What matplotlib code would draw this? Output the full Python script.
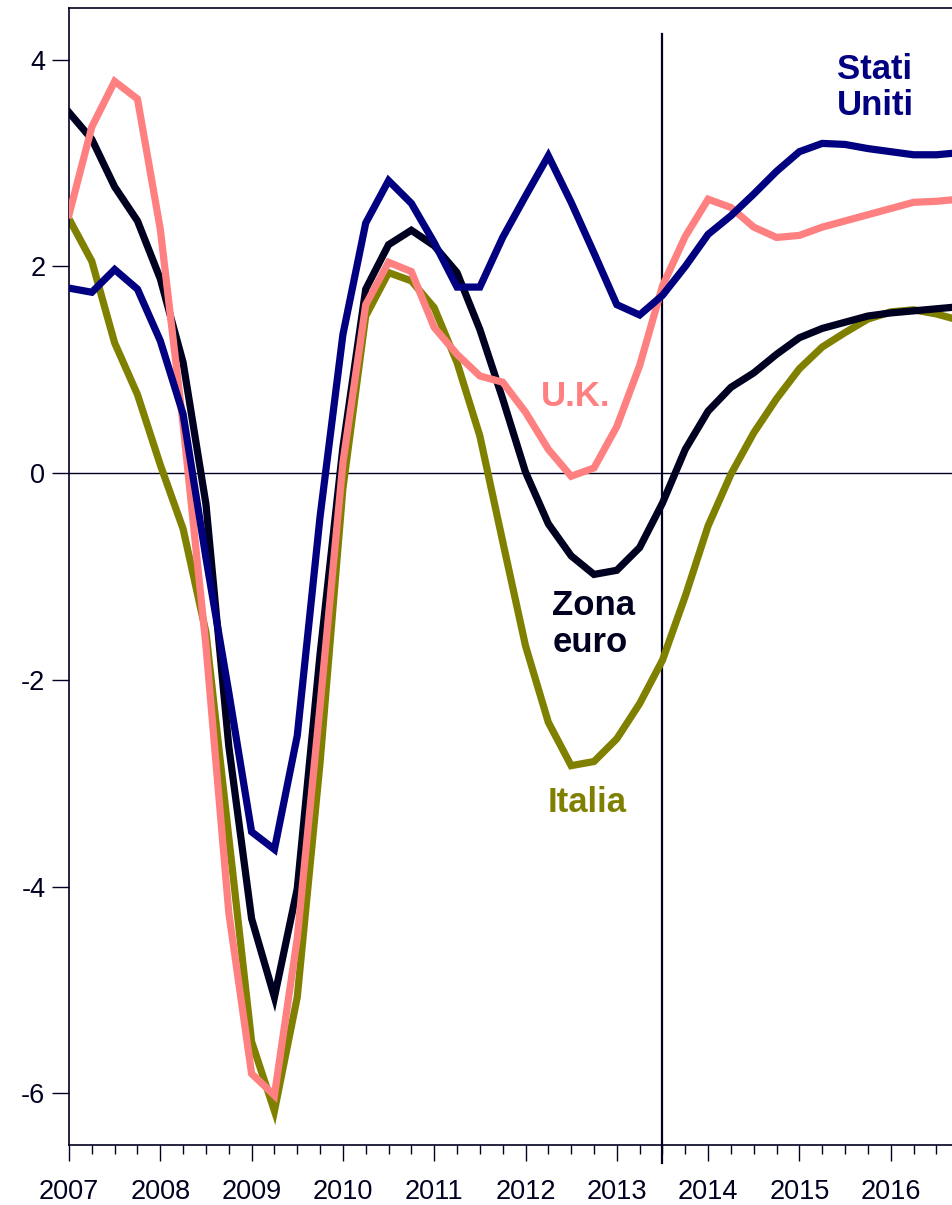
import numpy as np
import matplotlib
matplotlib.use('Agg')
import matplotlib.pyplot as plt
from matplotlib.ticker import MultipleLocator

plt.rcParams['font.family'] = ['Liberation Sans', 'DejaVu Sans']
plt.rcParams['axes.unicode_minus'] = False

### quarterly data, first point = 2007 Q1
start_year = 2007
quarters = np.arange(40)

zona_euro = [3.49, 3.23, 2.77, 2.44, 1.88, 1.07, -0.30, -2.64, -4.31, -5.07,
             -4.02, -1.75, 0.25, 1.78, 2.21, 2.35, 2.20, 1.94, 1.39, 0.72,
             0.01, -0.49, -0.80, -0.98, -0.94, -0.72, -0.29, 0.23, 0.60, 0.83,
             0.97, 1.15, 1.31, 1.40, 1.46, 1.52, 1.55, 1.57, 1.59, 1.61]
stati_uniti = [1.79, 1.75, 1.97, 1.78, 1.28, 0.57, -0.82, -2.12, -3.47, -3.64,
               -2.54, -0.42, 1.34, 2.42, 2.83, 2.61, 2.23, 1.80, 1.80, 2.28,
               2.68, 3.07, 2.62, 2.13, 1.63, 1.53, 1.72, 2.00, 2.31, 2.49,
               2.70, 2.92, 3.11, 3.19, 3.18, 3.14, 3.11, 3.08, 3.08, 3.10]
uk = [2.50, 3.35, 3.79, 3.62, 2.36, 0.47, -1.67, -4.25, -5.81, -6.02,
      -4.50, -2.25, 0.10, 1.63, 2.04, 1.95, 1.41, 1.15, 0.94, 0.88,
      0.59, 0.23, -0.03, 0.05, 0.45, 1.04, 1.81, 2.29, 2.65, 2.57,
      2.38, 2.28, 2.30, 2.38, 2.44, 2.50, 2.56, 2.62, 2.63, 2.65]
italia = [2.46, 2.05, 1.26, 0.76, 0.08, -0.54, -1.54, -3.52, -5.50, -6.17,
          -5.07, -2.80, -0.15, 1.52, 1.94, 1.86, 1.60, 1.07, 0.36, -0.66,
          -1.67, -2.41, -2.83, -2.79, -2.57, -2.23, -1.81, -1.19, -0.51, -0.01,
          0.39, 0.72, 1.01, 1.22, 1.36, 1.49, 1.56, 1.58, 1.54, 1.48]

years = list(range(2007, 2017))
forecast_start = 2013.5

DARK = '#000020'
NAVY = '#000080'
PINK = '#FF8080'
OLIVE = '#808000'

t = start_year + quarters / 4.0

fig = plt.figure(figsize=(9.53, 12.05), dpi=100)
ax = fig.add_axes([69 / 953, 1 - 1145 / 1205, (953 - 69) / 953, (1145 - 8) / 1205])

ax.axhline(0, color=DARK, lw=1.0, zorder=1)
ax.axvline(forecast_start, ymin=-0.016, ymax=0.977, color=DARK, lw=1.6,
           clip_on=False, zorder=1)

lw = 5.2
ax.plot(t, italia, color=OLIVE, lw=lw, solid_joinstyle='miter', zorder=2)
ax.plot(t, zona_euro, color=DARK, lw=lw, solid_joinstyle='miter', zorder=3)
ax.plot(t, uk, color=PINK, lw=lw, solid_joinstyle='miter', zorder=4)
ax.plot(t, stati_uniti, color=NAVY, lw=lw, solid_joinstyle='miter', zorder=5)

ax.set_xlim(2007, 2007 + (953 - 69) / 91.3)
ax.set_ylim(-6.5, 4.5)

ax.set_xticks(years)
ax.set_xticklabels([str(y) for y in years])
ax.xaxis.set_minor_locator(MultipleLocator(0.25))
ax.set_yticks([-6, -4, -2, 0, 2, 4])

ax.tick_params(axis='x', which='major', direction='out', length=11.5, width=1,
               color=DARK, labelsize=19.5, labelcolor=DARK, pad=13)
ax.tick_params(axis='x', which='minor', direction='out', length=6.5, width=1,
               color=DARK)
ax.tick_params(axis='y', which='major', direction='out', length=12, width=1,
               color=DARK, labelsize=19.5, labelcolor=DARK, pad=5)

for s in ['left', 'bottom', 'top']:
    ax.spines[s].set_color(DARK)
    ax.spines[s].set_linewidth(1.2)
ax.spines['right'].set_visible(False)

lab = dict(fontsize=25, fontweight='bold', ha='center', va='center',
           multialignment='left', linespacing=1.12)
ax.text(2015.83, 3.73, 'Stati\nUniti', color=NAVY, **lab)
ax.text(2012.55, 0.74, 'U.K.', color=PINK, **lab)
ax.text(2012.75, -1.46, 'Zona\neuro', color=DARK, **lab)
ax.text(2012.67, -3.19, 'Italia', color=OLIVE, **lab)

fig.savefig('out.png', dpi=100)
